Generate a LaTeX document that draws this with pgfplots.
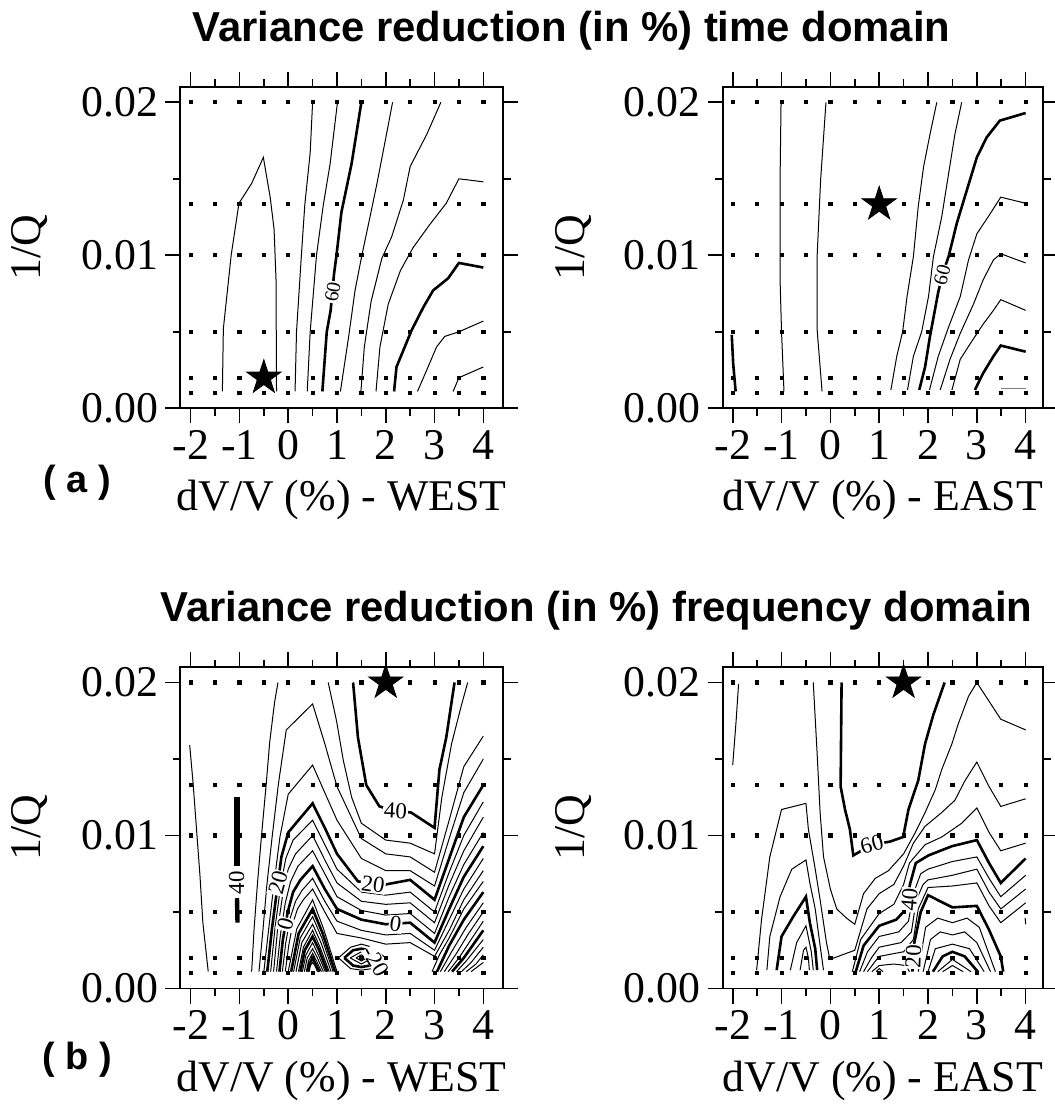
\documentclass[border=0pt]{standalone}
\usepackage{fontspec}
\setmainfont{Liberation Serif}
\newfontfamily\hfont{Liberation Sans}
\usepackage{pgfplots}
\pgfplotsset{compat=1.18}

\pgfdeclareplotmark{fivestar}{%
 \pgfpathmoveto{\pgfpointpolar{90}{\pgfplotmarksize}}%
 \pgfpathlineto{\pgfpointpolar{126}{0.382\pgfplotmarksize}}%
 \pgfpathlineto{\pgfpointpolar{162}{\pgfplotmarksize}}%
 \pgfpathlineto{\pgfpointpolar{198}{0.382\pgfplotmarksize}}%
 \pgfpathlineto{\pgfpointpolar{234}{\pgfplotmarksize}}%
 \pgfpathlineto{\pgfpointpolar{270}{0.382\pgfplotmarksize}}%
 \pgfpathlineto{\pgfpointpolar{306}{\pgfplotmarksize}}%
 \pgfpathlineto{\pgfpointpolar{342}{0.382\pgfplotmarksize}}%
 \pgfpathlineto{\pgfpointpolar{18}{\pgfplotmarksize}}%
 \pgfpathlineto{\pgfpointpolar{54}{0.382\pgfplotmarksize}}%
 \pgfpathclose
 \pgfusepathqfillstroke
}

\pgfplotsset{
 panel/.style={
   scale only axis, height=160.65bp,
   ymin=0, ymax=0.021,
   xtick={-2,-1,0,1,2,3,4}, xticklabels={-2,-1,0,1,2,3,4},
   ytick={0,0.01,0.02}, yticklabels={0.00,0.01,0.02},
   minor xtick={-1.5,-0.5,0.5,1.5,2.5,3.5},
   minor ytick={0.005,0.015},
   tick align=outside, major tick length=7.5bp, minor tick length=3.75bp,
   tick style={black, line width=0.8bp},
   axis line style={line width=0.8bp},
   ticklabel style={font=\fontsize{22}{24}\selectfont},
   label style={font=\fontsize{22}{24}\selectfont},
   scaled y ticks=false,
   clip=false,
   anchor=south west,
   ylabel={1/Q},
   ylabel style={at={(axis description cs:-0.465,0.5)}, anchor=center},
   xlabel style={at={(axis description cs:0.5,-0.2863)}, anchor=center},
 },
 west/.style={width=161.5bp, xmin=-2.219, xmax=4.404},
 east/.style={width=160.15bp, xmin=-2.205, xmax=4.355},
 thinc/.style={black, line width=0.5bp, no marks},
 thickc/.style={black, line width=1.3bp, no marks},
 starp/.style={black, only marks, mark=fivestar, mark size=9bp, mark options={fill=black}},
}
\tikzset{clab/.style={fill=white, inner sep=0.5bp, font=\fontsize{10}{10}\selectfont},
         blab/.style={fill=white, inner sep=0.5bp, font=\fontsize{11.5}{11.5}\selectfont}}

\newcommand{\griddots}{\addplot[only marks, mark=square*, mark size=0.8bp, black] coordinates {
(-2,0.001)(-1.5,0.001)(-1,0.001)(-0.5,0.001)(0,0.001)(0.5,0.001)(1,0.001)(1.5,0.001)(2,0.001)(2.5,0.001)(3,0.001)(3.5,0.001)(4,0.001)
(-2,0.002)(-1.5,0.002)(-1,0.002)(-0.5,0.002)(0,0.002)(0.5,0.002)(1,0.002)(1.5,0.002)(2,0.002)(2.5,0.002)(3,0.002)(3.5,0.002)(4,0.002)
(-2,0.005)(-1.5,0.005)(-1,0.005)(-0.5,0.005)(0,0.005)(0.5,0.005)(1,0.005)(1.5,0.005)(2,0.005)(2.5,0.005)(3,0.005)(3.5,0.005)(4,0.005)
(-2,0.01)(-1.5,0.01)(-1,0.01)(-0.5,0.01)(0,0.01)(0.5,0.01)(1,0.01)(1.5,0.01)(2,0.01)(2.5,0.01)(3,0.01)(3.5,0.01)(4,0.01)
(-2,0.013333)(-1.5,0.013333)(-1,0.013333)(-0.5,0.013333)(0,0.013333)(0.5,0.013333)(1,0.013333)(1.5,0.013333)(2,0.013333)(2.5,0.013333)(3,0.013333)(3.5,0.013333)(4,0.013333)
(-2,0.02)(-1.5,0.02)(-1,0.02)(-0.5,0.02)(0,0.02)(0.5,0.02)(1,0.02)(1.5,0.02)(2,0.02)(2.5,0.02)(3,0.02)(3.5,0.02)(4,0.02)
};}

\begin{document}
\begin{tikzpicture}
\path[use as bounding box] (0,0) rectangle (527.5bp,554.5bp);

\node[anchor=base, font=\hfont\bfseries\fontsize{21}{24}\selectfont] at (285.75bp,533.5bp) {Variance reduction (in \%) time domain};
\node[anchor=base, font=\hfont\bfseries\fontsize{21}{24}\selectfont] at (298.25bp,243.5bp) {Variance reduction (in \%) frequency domain};
\node[font=\hfont\bfseries\fontsize{19}{22}\selectfont] at (38.5bp,313bp) {( a )};
\node[font=\hfont\bfseries\fontsize{19}{22}\selectfont] at (38.5bp,24.5bp) {( b )};

% ---------------- (a) WEST
\begin{axis}[panel, west, at={(90bp,350.35bp)}, xlabel={dV/V (\%) - WEST}]
\addplot[thinc] coordinates {(-1.35,0.0011)(-1.33,0.0052)(-1.17,0.0100)(-1.01,0.0134)(-0.75,0.0147)(-0.51,0.0164)(-0.37,0.0138)(-0.29,0.0117)(-0.25,0.0084)(-0.24,0.0011)};
\addplot[thinc] coordinates {(0.14,0.0011)(0.17,0.0050)(0.27,0.0100)(0.34,0.0133)(0.45,0.0167)(0.50,0.0200)};
\addplot[thinc] coordinates {(0.39,0.0011)(0.45,0.0050)(0.58,0.0100)(0.72,0.0133)(0.86,0.0160)(1.01,0.0200)};
\addplot[thickc] coordinates {(0.70,0.0011)(0.79,0.0050)(0.87,0.0064)(0.94,0.0088)(0.99,0.0100)(1.09,0.0128)(1.30,0.0160)(1.50,0.0200)};
\addplot[thinc] coordinates {(1.07,0.0011)(1.24,0.0047)(1.37,0.0077)(1.51,0.0100)(1.65,0.0121)(1.82,0.0147)(1.99,0.0175)(2.14,0.0200)};
\addplot[thinc] coordinates {(1.49,0.0011)(1.56,0.0040)(1.70,0.0070)(1.92,0.0098)(2.12,0.0112)(2.36,0.0136)(2.50,0.0158)(2.84,0.0179)(3.13,0.0200)};
\addplot[thinc] coordinates {(1.80,0.0011)(1.88,0.0040)(2.05,0.0068)(2.30,0.0090)(2.56,0.0105)(2.90,0.0120)(3.24,0.0134)(3.50,0.0150)(4.00,0.0148)};
\addplot[thickc] coordinates {(2.17,0.0011)(2.22,0.0027)(2.53,0.0051)(2.77,0.0066)(2.97,0.0077)(3.28,0.0085)(3.50,0.0095)(4.00,0.0092)};
\addplot[thinc] coordinates {(2.65,0.0011)(2.84,0.0025)(3.04,0.0040)(3.21,0.0047)(3.50,0.0050)(4.00,0.0057)};
\addplot[thinc] coordinates {(3.38,0.0011)(3.50,0.0020)(4.00,0.0027)};
\node[clab, rotate=80] at (axis cs:0.91,0.0076) {60};
\griddots
\addplot[starp] coordinates {(-0.5,0.002)};
\end{axis}

% ---------------- (a) EAST
\begin{axis}[panel, east, at={(361.35bp,350.35bp)}, xlabel={dV/V (\%) - EAST}]
\addplot[thickc] coordinates {(-2.02,0.0048)(-1.99,0.0029)(-1.94,0.0011)};
\addplot[thinc] coordinates {(-1.01,0.0200)(-1.03,0.0149)(-1.03,0.0084)(-1.00,0.0050)(-0.95,0.0011)};
\addplot[thinc] coordinates {(-0.09,0.0200)(-0.20,0.0149)(-0.27,0.0100)(-0.27,0.0051)(-0.17,0.0011)};
\addplot[thinc] coordinates {(1.24,0.0012)(1.36,0.0034)(1.48,0.0050)(1.57,0.0073)(1.70,0.0099)(1.80,0.0132)(1.91,0.0158)(2.04,0.0179)(2.18,0.0200)};
\addplot[thinc] coordinates {(1.58,0.0012)(1.70,0.0034)(1.87,0.0050)(2.01,0.0073)(2.11,0.0099)(2.28,0.0125)(2.42,0.0153)(2.55,0.0179)(2.69,0.0200)};
\addplot[thickc] coordinates {(1.82,0.0012)(1.94,0.0027)(2.04,0.0047)(2.21,0.0076)(2.30,0.0088)(2.42,0.0099)(2.59,0.0121)(2.79,0.0142)(3.00,0.0164)(3.20,0.0177)(3.47,0.0188)(4.00,0.0193)};
\addplot[thinc] coordinates {(2.03,0.0012)(2.21,0.0034)(2.42,0.0053)(2.66,0.0073)(2.83,0.0097)(3.00,0.0114)(3.27,0.0127)(3.49,0.0138)(4.00,0.0134)};
\addplot[thinc] coordinates {(2.25,0.0012)(2.45,0.0032)(2.66,0.0049)(2.93,0.0068)(3.13,0.0084)(3.34,0.0097)(3.49,0.0101)(4.00,0.0095)};
\addplot[thinc] coordinates {(2.49,0.0012)(2.66,0.0032)(2.86,0.0042)(3.13,0.0055)(3.34,0.0064)(3.49,0.0071)(4.00,0.0064)};
\addplot[thickc] coordinates {(2.96,0.0012)(3.13,0.0023)(3.34,0.0034)(3.49,0.0041)(4.00,0.0037)};
\addplot[gray, line width=0.8bp, no marks] coordinates {(3.49,0.0013)(4.00,0.0013)};
\node[clab, rotate=75] at (axis cs:2.29,0.0087) {60};
\griddots
\addplot[starp] coordinates {(1.0,0.013333)};
\end{axis}

% ---------------- (b) WEST
\begin{axis}[panel, west, at={(90bp,60.25bp)}, xlabel={dV/V (\%) - WEST}]
\addplot[thinc] coordinates {(-2.02,0.0159)(-1.95,0.0134)(-1.88,0.0104)(-1.81,0.0074)(-1.75,0.0043)(-1.64,0.0011)};
\addplot[black, line width=2.6bp, no marks] coordinates {(-1.05,0.0080)(-1.05,0.0125)};
\addplot[black, line width=2.2bp, no marks] coordinates {(-1.05,0.0059)(-1.04,0.0043)};
\addplot[thinc] coordinates {(-0.21,0.0200)(-0.28,0.0187)(-0.38,0.0161)(-0.45,0.0134)(-0.55,0.0099)(-0.63,0.0069)(-0.70,0.0039)(-0.75,0.0011)};
\addplot[thickc] coordinates {(1.33,0.0200)(1.43,0.0164)(1.60,0.0133)(1.87,0.0119)(2.20,0.0116)(2.52,0.0115)(3.00,0.0105)(3.10,0.0143)(3.24,0.0164)(3.41,0.0200)};
\addplot[thinc] coordinates {(0.82,0.0200)(0.99,0.0175)(1.13,0.0149)(1.30,0.0125)(1.50,0.0108)(2.00,0.0097)(2.50,0.0095)(3.00,0.0088)(3.15,0.0125)(3.35,0.0160)(3.55,0.0185)(3.68,0.0200)};
\addplot[thinc] coordinates {(-0.60,0.0011)(-0.53,0.0034)(-0.44,0.0067)(-0.33,0.0099)(-0.20,0.0134)(-0.04,0.0169)(0.50,0.0186)(0.75,0.0160)(1.00,0.0132)(1.50,0.0098)(2.00,0.0088)(2.50,0.0086)(3.00,0.0076)(3.30,0.0110)(3.60,0.0145)(4.00,0.0165)};
\addplot[thinc] coordinates {(-0.50,0.0011)(-0.40,0.0039)(-0.29,0.0069)(-0.17,0.0099)(0.00,0.0127)(0.50,0.0146)(0.75,0.0128)(1.00,0.0110)(1.50,0.0085)(2.00,0.0077)(2.50,0.0077)(3.00,0.0067)(3.30,0.0098)(3.60,0.0128)(4.00,0.0150)};
\addplot[thickc] coordinates {(-0.43,0.0011)(-0.33,0.0040)(-0.21,0.0069)(-0.14,0.0086)(0.00,0.0102)(0.50,0.0121)(0.75,0.0105)(1.00,0.0088)(1.43,0.0070)(2.00,0.0068)(2.50,0.0071)(3.00,0.0058)(3.30,0.0085)(3.60,0.0112)(4.00,0.0133)};
\addplot[thinc] coordinates {(-0.36,0.0011)(-0.27,0.0040)(-0.15,0.0068)(-0.05,0.0085)(0.10,0.0097)(0.50,0.0110)(0.75,0.0094)(1.00,0.0078)(1.50,0.0063)(2.00,0.0061)(2.50,0.0063)(3.00,0.0050)(3.30,0.0076)(3.60,0.0100)(4.00,0.0122)};
\addplot[thinc] coordinates {(-0.30,0.0011)(-0.22,0.0038)(-0.11,0.0062)(0.00,0.0078)(0.15,0.0088)(0.50,0.0100)(0.75,0.0084)(1.00,0.0069)(1.50,0.0057)(2.00,0.0055)(2.50,0.0056)(3.00,0.0043)(3.30,0.0068)(3.60,0.0090)(4.00,0.0112)};
\addplot[thinc] coordinates {(-0.24,0.0011)(-0.16,0.0035)(-0.06,0.0056)(0.05,0.0070)(0.20,0.0080)(0.50,0.0090)(0.75,0.0075)(1.00,0.0060)(1.50,0.0051)(2.00,0.0048)(2.50,0.0049)(3.00,0.0036)(3.30,0.0060)(3.60,0.0081)(4.00,0.0102)};
\addplot[thickc] coordinates {(-0.18,0.0011)(-0.11,0.0032)(-0.01,0.0050)(0.10,0.0063)(0.25,0.0071)(0.50,0.0080)(0.75,0.0065)(1.00,0.0052)(1.50,0.0045)(2.00,0.0042)(2.50,0.0043)(3.00,0.0030)(3.30,0.0052)(3.60,0.0073)(4.00,0.0093)};
\addplot[thinc] coordinates {(-0.12,0.0011)(-0.05,0.0030)(0.04,0.0046)(0.15,0.0057)(0.28,0.0064)(0.50,0.0072)(0.75,0.0057)(1.00,0.0044)(1.50,0.0038)(2.00,0.0035)(2.50,0.0036)(3.00,0.0025)(3.30,0.0045)(3.60,0.0065)(4.00,0.0085)};
\addplot[thinc] coordinates {(-0.06,0.0011)(0.01,0.0028)(0.09,0.0042)(0.19,0.0052)(0.31,0.0058)(0.50,0.0065)(0.75,0.0050)(1.00,0.0036)(1.50,0.0033)(2.00,0.0029)(2.50,0.0030)(3.00,0.0021)(3.30,0.0038)(3.60,0.0058)(4.00,0.0077)};
\addplot[thinc] coordinates {(0.00,0.0011)(0.175,0.0039)(0.50,0.0058)(0.725,0.0039)(1.00,0.0011)};
\addplot[thickc] coordinates {(0.06,0.0011)(0.214,0.0036)(0.50,0.0052)(0.707,0.0036)(0.96,0.0011)};
\addplot[thinc] coordinates {(0.11,0.0011)(0.247,0.0033)(0.50,0.0047)(0.689,0.0033)(0.92,0.0011)};
\addplot[thinc] coordinates {(0.16,0.0011)(0.279,0.0030)(0.50,0.0042)(0.671,0.0030)(0.88,0.0011)};
\addplot[thinc] coordinates {(0.21,0.0011)(0.312,0.0027)(0.50,0.0038)(0.653,0.0027)(0.84,0.0011)};
\addplot[thickc] coordinates {(0.25,0.0011)(0.338,0.0025)(0.50,0.0034)(0.635,0.0025)(0.80,0.0011)};
\addplot[thinc] coordinates {(0.29,0.0011)(0.364,0.0022)(0.50,0.0030)(0.617,0.0022)(0.76,0.0011)};
\addplot[thinc] coordinates {(0.33,0.0011)(0.39,0.0020)(0.50,0.0026)(0.599,0.0020)(0.72,0.0011)};
\addplot[thinc] coordinates {(0.37,0.0011)(0.416,0.0018)(0.50,0.0023)(0.581,0.0018)(0.68,0.0011)};
\addplot[thickc] coordinates {(0.40,0.0011)(0.435,0.0016)(0.50,0.0020)(0.563,0.0016)(0.64,0.0011)};
\addplot[thinc] coordinates {(0.43,0.0011)(0.455,0.0015)(0.50,0.0017)(0.545,0.0015)(0.60,0.0011)};
\addplot[thinc] coordinates {(1.03,0.0020)(1.28,0.0027)(1.50,0.0029)(1.72,0.0027)(2.00,0.0020)(1.72,0.0013)(1.50,0.0012)(1.28,0.0013)(1.03,0.0020)};
\addplot[thickc] coordinates {(1.15,0.0020)(1.33,0.0025)(1.50,0.0026)(1.67,0.0025)(1.87,0.0020)(1.67,0.0015)(1.50,0.0014)(1.33,0.0015)(1.15,0.0020)};
\addplot[thinc] coordinates {(1.27,0.0020)(1.50,0.0024)(1.73,0.0020)(1.50,0.0016)(1.27,0.0020)};
\addplot[thinc] coordinates {(1.39,0.0020)(1.50,0.0022)(1.61,0.0020)(1.50,0.0018)(1.39,0.0020)};
\addplot[thinc] coordinates {(2.95,0.0011)(3.10,0.0022)(3.30,0.0033)(3.60,0.0052)(4.00,0.0070)};
\addplot[thickc] coordinates {(3.05,0.0011)(3.30,0.0028)(3.60,0.0045)(4.00,0.0063)};
\addplot[thinc] coordinates {(3.12,0.0011)(3.35,0.0024)(3.65,0.0040)(4.00,0.0056)};
\addplot[thinc] coordinates {(3.20,0.0011)(3.45,0.0023)(3.70,0.0036)(4.00,0.0050)};
\addplot[thinc] coordinates {(3.28,0.0011)(3.50,0.0020)(3.75,0.0032)(4.00,0.0044)};
\addplot[thickc] coordinates {(3.36,0.0011)(3.60,0.0020)(3.80,0.0029)(4.00,0.0038)};
\addplot[thinc] coordinates {(3.45,0.0011)(3.65,0.0018)(3.85,0.0026)(4.00,0.0032)};
\addplot[thinc] coordinates {(3.55,0.0011)(3.75,0.0017)(4.00,0.0027)};
\addplot[thinc] coordinates {(3.65,0.0011)(3.85,0.0016)(4.00,0.0022)};
\addplot[thinc] coordinates {(3.75,0.0011)(4.00,0.0017)};
\node[blab, rotate=-3] at (axis cs:2.2,0.0116) {40};
\node[blab, rotate=-8] at (axis cs:1.74,0.0068) {20};
\node[blab, rotate=-8] at (axis cs:2.2,0.0042) {0};
\node[blab, rotate=-60, inner sep=0.2bp] at (axis cs:1.80,0.0018) {-20};
\node[blab, rotate=75] at (axis cs:-0.21,0.0069) {20};
\node[blab, rotate=75] at (axis cs:-0.06,0.0042) {0};
\node[blab, rotate=90] at (axis cs:-1.06,0.0069) {40};
\griddots
\addplot[starp] coordinates {(2.0,0.02)};
\end{axis}

% ---------------- (b) EAST
\begin{axis}[panel, east, at={(361.35bp,60.25bp)}, xlabel={dV/V (\%) - EAST}]
\addplot[thinc] coordinates {(-1.88,0.0199)(-1.93,0.0175)(-2.00,0.0146)};
\addplot[thinc] coordinates {(-0.35,0.0200)(-0.27,0.0153)(-0.21,0.0115)(-0.14,0.0086)(0.00,0.0065)(0.13,0.0052)(0.33,0.0046)(0.50,0.0042)(0.68,0.0062)(0.92,0.0072)(1.19,0.0077)(1.50,0.0088)(1.74,0.0102)(1.94,0.0115)(2.15,0.0130)(2.28,0.0143)(2.49,0.0160)(2.62,0.0173)(2.83,0.0191)(3.00,0.0200)(3.49,0.0176)(4.00,0.0169)};
\addplot[thickc] coordinates {(0.23,0.0200)(0.21,0.0132)(0.30,0.0117)(0.40,0.0104)(0.47,0.0087)(0.85,0.0094)(1.22,0.0096)(1.49,0.0099)(1.60,0.0117)(1.80,0.0136)(1.94,0.0160)(2.11,0.0179)(2.34,0.0200)};
\addplot[thinc] coordinates {(-1.51,0.0012)(-1.41,0.0045)(-1.24,0.0086)(-1.00,0.0117)(-0.50,0.0121)(-0.45,0.0104)(-0.31,0.0078)(-0.21,0.0058)(-0.08,0.0030)(-0.01,0.0019)(0.50,0.0025)(0.75,0.0052)(1.00,0.0062)(1.30,0.0068)(1.50,0.0080)(1.70,0.0095)(1.94,0.0106)(2.28,0.0115)(2.55,0.0123)(2.76,0.0136)(3.00,0.0148)(3.25,0.0132)(3.49,0.0119)(4.00,0.0124)};
\addplot[thinc] coordinates {(0.45,0.0011)(0.62,0.0032)(1.00,0.0049)(1.30,0.0055)(1.50,0.0068)(1.62,0.0082)(1.94,0.0094)(2.28,0.0099)(2.69,0.0108)(3.00,0.0118)(3.25,0.0102)(3.49,0.0090)(4.00,0.0095)};
\addplot[thickc] coordinates {(0.52,0.0011)(0.68,0.0028)(1.00,0.0041)(1.35,0.0045)(1.55,0.0052)(1.63,0.0068)(1.75,0.0082)(2.01,0.0087)(2.49,0.0093)(3.00,0.0097)(3.25,0.0082)(3.49,0.0069)(4.00,0.0085)};
\addplot[thinc] coordinates {(0.60,0.0011)(0.76,0.0024)(1.00,0.0034)(1.40,0.0037)(1.60,0.0044)(1.70,0.0062)(1.85,0.0075)(2.00,0.0078)(2.50,0.0083)(3.00,0.0086)(3.25,0.0072)(3.49,0.0060)(4.00,0.0074)};
\addplot[thinc] coordinates {(0.68,0.0011)(0.84,0.0020)(1.00,0.0027)(1.45,0.0030)(1.66,0.0037)(1.76,0.0058)(1.90,0.0068)(2.00,0.0071)(2.50,0.0074)(3.00,0.0078)(3.25,0.0063)(3.49,0.0052)(4.00,0.0065)};
\addplot[thinc] coordinates {(0.76,0.0011)(0.90,0.0017)(1.00,0.0021)(1.50,0.0024)(1.70,0.0032)(1.80,0.0052)(2.00,0.0066)(2.50,0.0067)(3.00,0.0069)(3.25,0.0054)(3.49,0.0043)(4.00,0.0056)};
\addplot[thickc] coordinates {(1.68,0.0011)(1.72,0.0030)(1.85,0.0050)(2.00,0.0061)(2.50,0.0053)(3.00,0.0054)(3.24,0.0039)(3.49,0.0021)(3.54,0.0011)};
\addplot[thinc] coordinates {(0.85,0.0011)(1.00,0.0015)(1.30,0.0016)(1.55,0.0015)(1.62,0.0011)};
\addplot[thinc] coordinates {(0.94,0.0011)(1.00,0.0013)(1.08,0.0011)};
\addplot[thinc] coordinates {(1.80,0.0011)(1.95,0.0040)(2.20,0.0046)(2.50,0.0043)(2.80,0.0046)(3.05,0.0040)(3.38,0.0011)};
\addplot[thinc] coordinates {(1.90,0.0011)(2.05,0.0032)(2.25,0.0037)(2.50,0.0035)(2.75,0.0037)(3.00,0.0030)(3.28,0.0011)};
\addplot[thinc] coordinates {(2.00,0.0011)(2.15,0.0026)(2.50,0.0029)(2.85,0.0026)(3.15,0.0011)};
\addplot[thickc] coordinates {(2.10,0.0011)(2.30,0.0021)(2.50,0.0024)(2.75,0.0021)(3.02,0.0011)};
\addplot[thinc] coordinates {(2.20,0.0011)(2.50,0.0019)(2.88,0.0011)};
\addplot[thinc] coordinates {(2.30,0.0011)(2.50,0.0015)(2.72,0.0011)};
\addplot[thinc] coordinates {(-1.30,0.0012)(-1.24,0.0034)(-1.03,0.0060)(-0.79,0.0078)(-0.50,0.0084)(-0.42,0.0069)(-0.31,0.0052)(-0.21,0.0028)(-0.14,0.0012)};
\addplot[thickc] coordinates {(-1.10,0.0012)(-1.00,0.0034)(-0.76,0.0047)(-0.50,0.0060)(-0.42,0.0043)(-0.31,0.0026)(-0.27,0.0012)};
\addplot[thinc] coordinates {(-0.82,0.0012)(-0.69,0.0030)(-0.50,0.0041)(-0.39,0.0024)(-0.35,0.0012)};
\addplot[thinc] coordinates {(-0.62,0.0012)(-0.55,0.0025)(-0.50,0.0027)(-0.45,0.0020)(-0.43,0.0012)};
\addplot[thinc] coordinates {(3.99,0.0046)(4.00,0.0042)};
\node[blab, rotate=15] at (axis cs:0.85,0.0094) {60};
\node[blab, rotate=85] at (axis cs:1.62,0.0058) {40};
\node[blab, rotate=88] at (axis cs:1.70,0.0021) {20};
\griddots
\addplot[starp] coordinates {(1.5,0.02)};
\end{axis}
\end{tikzpicture}
\end{document}
